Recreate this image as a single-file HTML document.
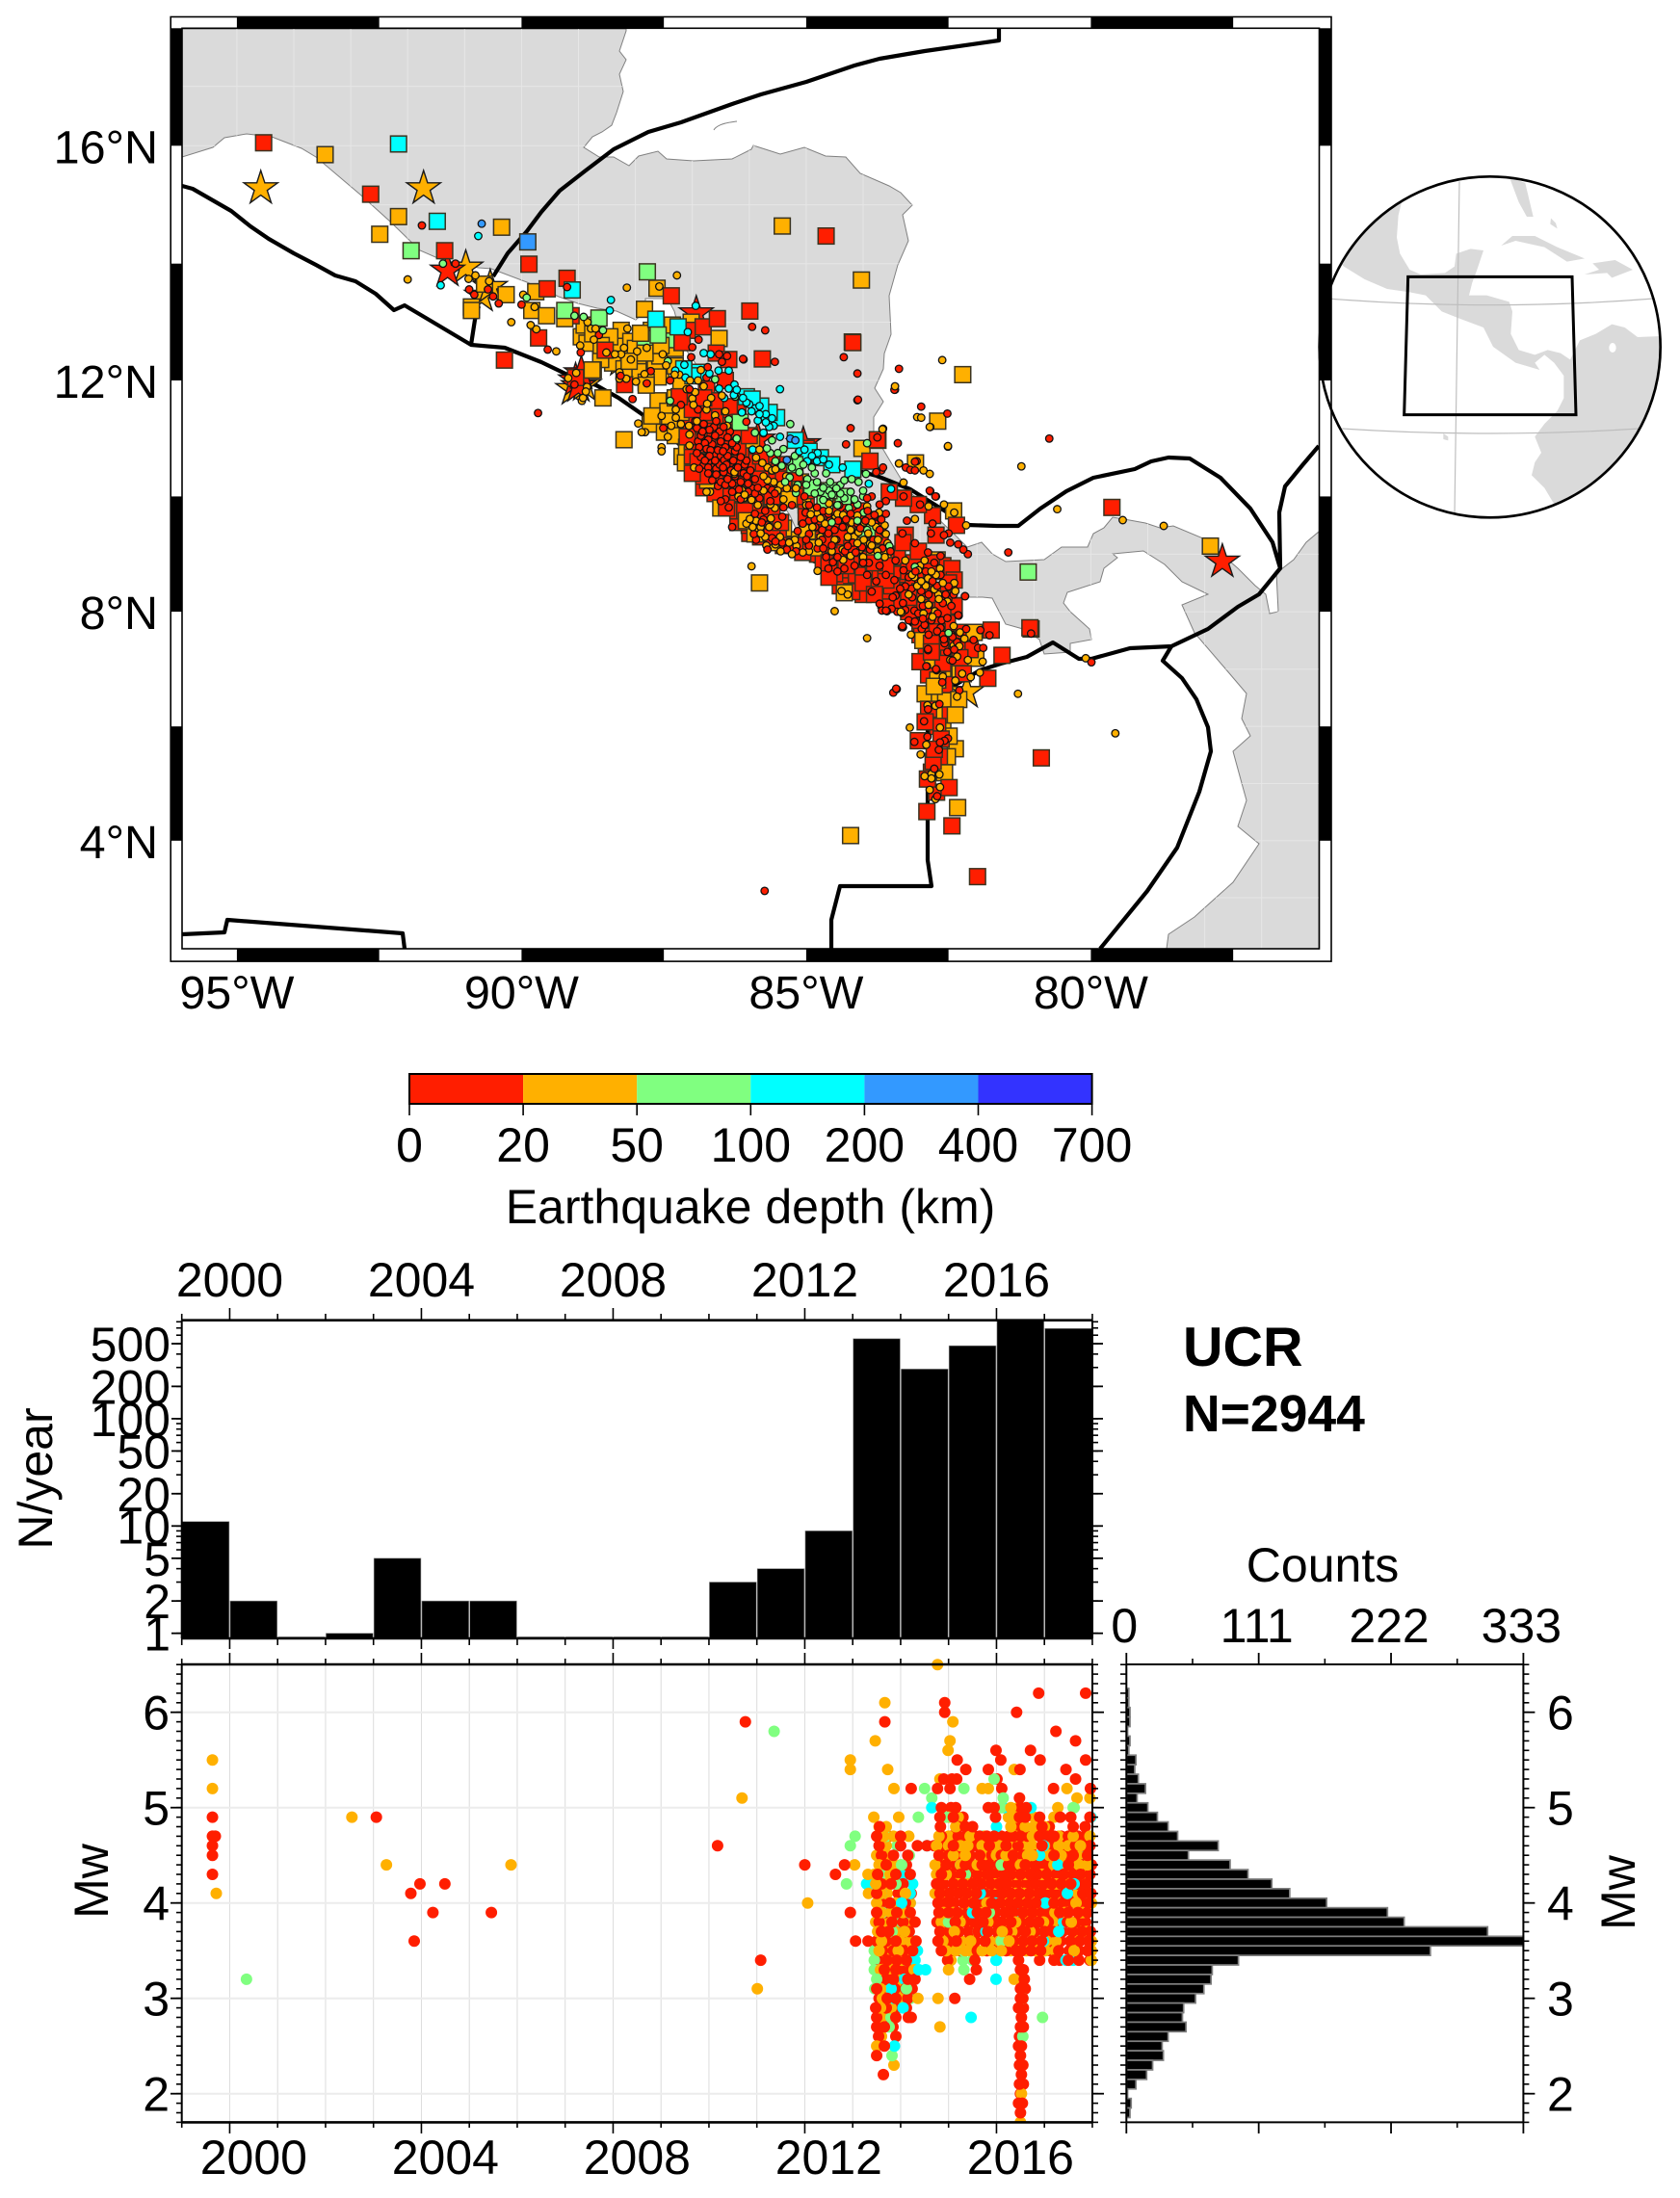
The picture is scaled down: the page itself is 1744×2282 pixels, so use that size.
<!DOCTYPE html>
<html lang="en">
<head>
<meta charset="utf-8">
<title>UCR earthquake catalogue, Central America</title>
<style>
html,body{margin:0;padding:0;background:#fff;}
svg{display:block;}
text{font-family:"Liberation Sans",sans-serif;fill:#000;}
</style>
</head>
<body>
<svg id="fig" xmlns="http://www.w3.org/2000/svg" width="1744" height="2282" viewBox="0 0 1744 2282">
<defs>
<clipPath id="mapClip"><rect x="189" y="29.3" width="1180.5" height="955.7"/></clipPath>
<clipPath id="landClip"><polygon id="landClipPoly" points=""/></clipPath>
<clipPath id="globeClip"><circle cx="620" cy="601" r="531"/></clipPath>
<clipPath id="tmClip"><rect x="188.7" y="1720" width="960" height="483.4"/></clipPath>
</defs>

<g id="inset" transform="translate(1340,160) scale(0.33333)">
<circle cx="620" cy="601" r="531" fill="#fff"/>
<g clip-path="url(#globeClip)" fill="#dadada">
<polygon points="350,130 335,190 330,260 340,310 370,360 405,375 480,370 510,350 515,310 560,295 600,300 580,360 565,400 555,440 610,440 680,460 690,490 685,560 710,610 760,625 800,610 840,620 870,640 900,580 950,560 1000,530 1040,540 1080,570 1200,565 1200,1200 820,1090 790,1040 750,1000 760,960 780,930 760,880 790,840 830,800 850,760 850,690 820,650 790,625 760,650 775,672 700,650 630,600 620,580 600,540 520,510 470,490 420,440 370,430 300,420 230,390 165,350 50,250 200,50"/>
<polygon points="680,70 730,90 755,195 735,195 710,150"/>
<polygon points="655,285 690,255 760,255 830,290 915,325 860,335 790,290 700,270"/>
<polygon points="940,340 1010,330 1065,360 1000,385 985,370 915,375 960,360"/>
<polygon points="810,200 825,215 830,232 808,218"/>
<polygon points="475,870 490,880 490,892 475,888"/>
<ellipse cx="1002" cy="603" rx="11" ry="15" fill="#fff"/>
<path d="M115,450 Q620,490 1130,450 M160,855 Q620,885 1085,855 M525,85 L510,1120" fill="none" stroke="#bdbdbd" stroke-width="3.5"/>
</g>
<polygon points="365,382 876,382 888,812 353,812" fill="none" stroke="#000" stroke-width="9"/>
<circle cx="620" cy="601" r="531" fill="none" stroke="#000" stroke-width="8"/>
</g>

<g id="mapLayer" clip-path="url(#mapClip)">
<polygon id="land" fill="#dadada" stroke="#808080" stroke-width="1" points=""/>
<g id="graticule" clip-path="url(#landClip)"></g>
<path d="M741,135 Q745,128 765,126" fill="none" stroke="#808080" stroke-width="1"/>
<g fill="none" stroke="#000" stroke-width="4.2" stroke-linejoin="round">
<polyline points="189,193 200,196 240,219 260,235 279,248 305,263 328,275 348,286 369,292 390,305 409,322 420,317 447,333 489,358 524,361 562,376 587,388 619,400 642,413 665,429 696,453 715,470 760,505 800,545 843,582 860,588 890,607 913,625 933,635 948,650 963,695 963,893 967,920 872,920 863,955 863,985"/>
<polyline points="489,358 493,332 497,318"/>
<polyline points="512,287 527,263 547,240 562,220 581,198 608,177 637,155 673,137 707,127 760,108 790,98 837,85 887,68 913,61 960,53 1037,42 1037,29"/>
<polyline points="810,477 861,481 910,494 945,508 1004,545 1035,546 1057,546 1080,528 1107,510 1135,496 1178,487 1195,479 1213,475 1235,476 1267,496 1298,528 1321,563 1329,590 1328,532 1334,505 1352,483 1369,463"/>
<polyline points="1329,590 1307,617 1285,630 1254,653 1216,671 1173,673 1133,684 1120,684 1093,667 1066,682 1039,689 1017,696 985,715"/>
<polyline points="1216,671 1207,686 1227,704 1242,726 1254,755 1257,780 1245,822 1222,880 1191,925 1142,985"/>
<polyline points="189,970 233,968 236,955 418,969 420,985"/>
</g>
<g id="stars"></g>
<g id="squares"></g>
<g id="circles"></g>
</g>

<g id="mapFrame"></g>
<g id="mapLabels"></g>

<g id="colorbar"></g>
<text x="779" y="1270" font-size="50" text-anchor="middle">Earthquake depth (km)</text>

<g id="yearBars"></g>
<text transform="translate(54,1535) rotate(-90)" font-size="50" text-anchor="middle">N/year</text>

<text x="1228" y="1418" font-size="57.5" font-weight="bold">UCR</text>
<text x="1228" y="1486" font-size="53.5" font-weight="bold">N=2944</text>

<g id="tmPanel"></g>
<text transform="translate(112,1953) rotate(-90)" font-size="50" text-anchor="middle">Mw</text>

<g id="magHist"></g>
<text x="1373" y="1642" font-size="50" text-anchor="middle">Counts</text>
<text transform="translate(1697,1965) rotate(-90)" font-size="50" text-anchor="middle">Mw</text>
</svg>

<script>
/* ---------- chart data ---------- */
const depthEdges = [0,20,50,100,200,400,700];
const depthColors = ['#ff1e00','#ffb000','#80ff80','#00ffff','#3399ff','#3333ff'];

const lonTicks = [-95,-90,-85,-80];
const latTicks = [16,12,8,4];
const frameLonStarts = [-95,-90,-85,-80];
const frameLatBands = [[18,16],[14,12],[10,8],[6,4]];

const starsRed = [[-91.3,13.88],[-77.69,8.87],[-89.05,12.0],[-89.0,11.9],[-88.95,12.12],[-85.05,10.9],[-86.93,13.15],[-85.85,10.98]];
const starsOrange = [[-94.58,15.28],[-91.72,15.28],[-90.98,13.93],[-90.7,13.45],[-90.55,13.6],[-89.1,11.85],[-88.9,11.92],[-88.25,12.35],[-82.18,6.6]];
const starsGreen = [[-88.72,12.78]];

const squaresOrange = [[-93.45,15.85],[-92.16,14.8],[-92.49,14.5],[-90.35,14.62],[-89.75,13.52],[-90.27,13.47],[-90.65,13.65],[-90.88,13.26],[-90.88,13.2],[-87.62,13.58],[-88.74,12.18],[-88.57,11.7],[-88.2,10.98],[-87.74,11.25],[-87.71,11.39],[-89.82,13.2],[-89.56,13.11],[-89.24,13.06],[-88.9,12.95],[-88.85,12.64],[-88.61,12.36],[-88.76,12.18],[-88.3,12.64],[-88.08,12.67],[-88.25,12.86],[-87.91,12.81],[-87.83,12.47],[-88.11,12.33],[-87.57,12.42],[-87.6,12.06],[-87.85,12.06],[-87.81,11.97],[-87.81,11.92],[-87.84,13.22],[-87.72,12.86],[-87.4,12.82],[-87.02,13.0],[-86.53,12.72],[-87.2,11.95],[-87.43,11.47],[-86.64,11.53],[-87.49,11.11],[-87.18,10.69],[-87.12,10.58],[-86.7,10.28],[-85.96,10.97],[-86.05,9.61],[-85.82,8.5],[-84.33,8.33],[-84.02,10.83],[-82.69,11.3],[-83.08,10.58],[-82.41,9.75],[-82.05,7.64],[-82.78,7.16],[-82.02,7.19],[-86.05,9.58],[-85.2,9.25],[-84.86,9.11],[-85.06,10.03],[-85.71,10.58],[-86.73,10.28],[-83.65,9.03],[-82.91,6.57],[-82.66,6.57],[-82.32,6.47],[-82.49,6.28],[-82.38,6.2],[-82.69,6.81],[-82.49,5.83],[-82.38,5.61],[-82.52,5.47],[-82.57,5.19],[-82.34,4.58],[-84.22,4.09],[-77.9,9.14],[-85.42,14.64],[-84.03,13.72],[-82.25,12.1],[-84.98,9.4],[-85.3,9.95],[-84.3,9.6],[-85.9,9.35],[-86.5,9.8]];
const squaresOrangeBand = [[-88.95,12.75],[-88.75,12.8],[-88.6,12.6],[-88.45,12.75],[-88.2,12.55],[-88.0,12.55],[-87.95,12.3],[-87.75,12.6],[-87.65,12.25],[-88.4,12.3],[-88.2,12.2],[-87.95,12.15],[-87.55,12.6],[-87.55,12.15],[-87.3,12.55],[-87.3,12.25],[-87.35,12.95],[-87.2,12.75],[-87.6,11.65],[-87.3,11.7],[-87.6,11.25],[-87.4,11.3],[-87.2,11.45],[-87.3,11.05],[-87.1,10.85],[-86.95,10.75],[-85.4,9.45],[-85.6,9.2],[-84.4,9.5],[-84.0,9.2],[-83.8,9.0],[-82.75,6.7],[-82.55,6.45],[-82.75,6.2],[-82.6,6.1],[-82.7,8.9],[-82.95,7.5],[-82.3,7.0],[-82.6,6.95],[-85.5,10.3],[-85.1,10.25]];
const squaresRed = [[-94.53,16.05],[-92.65,15.18],[-91.35,14.22],[-89.87,13.99],[-89.2,13.75],[-89.55,13.57],[-87.37,13.45],[-89.7,12.73],[-90.3,12.35],[-89.05,12.05],[-89.13,13.11],[-88.53,12.52],[-88.19,11.93],[-87.09,12.86],[-87.18,12.65],[-86.81,12.92],[-86.56,13.06],[-85.99,13.19],[-86.58,12.47],[-86.36,12.36],[-86.42,12.0],[-87.23,11.72],[-87.02,11.64],[-87.09,11.28],[-87.09,11.03],[-86.64,10.69],[-86.75,10.47],[-86.36,10.25],[-86.19,9.91],[-85.99,9.36],[-85.0,10.83],[-83.74,10.97],[-83.88,10.61],[-83.54,10.08],[-83.29,9.97],[-83.03,9.86],[-82.78,9.67],[-82.36,9.5],[-83.26,9.33],[-82.72,9.33],[-83.03,9.05],[-82.44,8.75],[-84.5,8.66],[-84.16,8.64],[-83.82,8.69],[-83.74,8.47],[-83.54,8.36],[-83.93,8.91],[-83.6,8.8],[-82.58,8.25],[-82.92,8.03],[-83.2,8.25],[-82.97,7.69],[-82.52,7.8],[-82.24,7.64],[-82.89,7.36],[-82.64,7.47],[-83.0,7.13],[-82.3,7.02],[-82.13,7.36],[-86.08,9.75],[-85.49,9.39],[-85.06,9.03],[-86.3,9.8],[-85.8,10.08],[-84.61,9.75],[-84.55,9.17],[-81.75,7.68],[-81.05,7.7],[-81.56,7.24],[-81.81,6.84],[-82.8,7.15],[-82.12,7.34],[-82.66,7.54],[-82.24,6.92],[-82.57,6.73],[-82.91,6.08],[-82.69,6.0],[-83.03,5.75],[-82.63,5.78],[-82.66,5.47],[-82.77,5.39],[-82.87,5.08],[-82.49,4.93],[-82.71,4.85],[-82.88,4.51],[-82.44,4.26],[-81.99,3.37],[-80.87,5.45],[-85.77,12.37],[-84.19,12.66],[-83.75,10.98],[-79.63,9.81],[-81.07,7.72],[-84.65,14.47],[-84.18,12.65],[-86.9,11.1],[-86.7,11.0],[-86.45,11.1],[-86.3,10.9],[-86.15,10.7],[-86.9,10.6],[-86.6,10.4],[-86.3,10.5],[-86.1,10.3],[-86.5,10.15],[-86.2,10.05],[-85.95,10.15],[-85.75,10.45],[-85.6,10.25],[-85.4,10.1],[-85.2,10.0],[-85.9,9.85],[-85.6,9.7],[-85.45,9.55],[-85.0,9.65],[-84.8,9.4],[-84.5,9.45],[-84.2,9.3],[-84.9,9.2],[-84.4,9.05],[-84.1,8.95],[-84.7,8.85],[-84.3,8.8],[-83.9,9.05],[-83.7,9.25],[-83.9,9.6],[-84.1,9.75],[-83.3,9.2],[-83.1,8.85],[-83.2,8.5],[-82.9,8.55],[-82.7,8.3],[-82.5,8.5],[-83.0,7.85],[-82.7,7.65],[-82.5,7.35],[-82.8,7.45],[-82.3,7.2],[-82.6,7.1],[-82.35,7.4],[-83.7,8.7],[-84.0,8.5],[-83.5,8.45],[-86.85,11.4],[-86.55,11.3],[-86.35,11.55],[-86.75,11.85]];
const squaresRedBand = [[-87.0,11.5],[-87.0,11.2],[-87.0,10.95],[-87.0,10.7],[-87.0,10.4],[-86.8,11.7],[-86.8,11.45],[-86.8,11.15],[-86.8,10.9],[-86.8,10.65],[-86.8,10.35],[-86.8,10.15],[-86.6,11.65],[-86.6,11.4],[-86.6,11.15],[-86.6,10.9],[-86.6,10.6],[-86.6,10.3],[-86.6,10.05],[-86.4,11.5],[-86.4,11.25],[-86.4,10.75],[-86.4,10.5],[-86.4,10.0],[-86.4,9.8],[-86.2,11.45],[-86.2,11.15],[-86.2,10.85],[-86.2,10.4],[-86.2,10.2],[-86.2,9.75],[-86.2,9.55],[-86.0,11.05],[-86.0,10.6],[-86.0,10.0],[-86.0,9.75],[-86.0,9.5],[-85.8,10.7],[-85.8,10.3],[-85.8,9.6],[-85.8,9.3],[-85.6,10.6],[-85.6,10.0],[-85.6,9.3],[-85.4,10.55],[-85.4,10.3],[-85.4,9.95],[-85.4,9.15],[-85.2,10.4],[-85.2,9.15],[-85.0,10.1],[-85.0,9.85],[-85.0,9.3],[-84.8,9.65],[-84.8,9.25],[-84.8,9.0],[-84.6,9.6],[-84.6,9.25],[-84.6,8.85],[-84.6,8.6],[-84.4,9.8],[-84.4,9.3],[-84.4,8.6],[-84.4,8.45],[-84.2,9.55],[-84.2,9.1],[-84.2,8.55],[-84.2,8.35],[-84.0,9.35],[-84.0,9.15],[-84.0,8.75],[-84.0,8.3],[-83.8,9.4],[-83.8,9.1],[-83.8,8.85],[-83.8,8.3],[-83.6,9.0],[-83.6,8.55],[-83.6,8.2],[-83.4,8.95],[-83.4,8.65],[-83.4,8.15],[-83.2,8.7],[-83.2,8.0],[-83.0,8.35],[-83.0,8.15],[-83.0,7.6],[-82.8,8.85],[-82.8,8.7],[-82.8,8.1],[-82.8,7.9],[-82.8,7.3],[-82.6,8.8],[-82.6,8.05],[-82.6,7.9],[-82.4,8.55],[-82.4,8.1],[-82.4,7.55],[-82.4,7.2],[-82.85,6.9],[-82.85,6.3],[-82.6,6.2],[-82.75,5.6],[-82.8,5.2]];
const squaresGreen = [[-91.94,14.22],[-87.79,13.86],[-89.24,13.2],[-88.64,13.07],[-87.83,12.72],[-87.4,12.7],[-86.16,11.28],[-84.67,9.92],[-83.93,9.42],[-81.1,8.69],[-87.6,12.78],[-84.9,10.15],[-84.35,10.0],[-85.2,10.55],[-84.6,10.1]];
const squaresCyan = [[-92.16,16.03],[-91.48,14.72],[-89.11,13.55],[-87.64,13.05],[-87.25,12.92],[-87.15,12.2],[-86.87,12.14],[-86.05,11.72],[-85.8,11.56],[-85.52,11.36],[-85.19,10.97],[-84.75,10.67],[-84.18,10.47],[-86.99,12.08],[-85.95,11.68],[-85.65,11.45],[-84.95,10.78],[-84.55,10.55]];
const squaresBlue = [[-89.89,14.37]];

const circlesCyan = [[-90.76,14.47],[-91.42,13.63],[-88.43,13.38],[-88.45,13.2],[-86.94,13.28],[-86.8,12.47],[-86.68,12.45],[-87.08,12.83],[-87.14,12.27],[-86.7,12.12],[-86.54,12.17],[-86.36,12.17],[-86.26,11.93],[-86.53,11.86],[-86.36,11.86],[-86.22,11.84],[-86.44,11.7],[-86.27,11.75],[-86.11,11.7],[-86.0,11.59],[-85.82,11.56],[-86.13,11.45],[-85.96,11.47],[-85.82,11.42],[-85.71,11.42],[-85.85,11.31],[-85.71,11.28],[-85.57,11.22],[-85.65,11.2],[-85.46,11.85],[-85.94,10.81],[-85.46,11.03],[-85.03,10.81],[-84.81,10.61],[-84.7,10.64],[-84.98,10.61],[-85.12,10.78],[-84.36,10.5],[-83.9,10.22],[-83.51,10.13],[-87.3,12.17],[-87.12,12.05],[-86.05,11.62],[-85.9,11.52],[-85.75,11.1],[-85.6,11.35],[-84.9,10.7],[-84.8,10.75],[-84.6,10.55]];
const circlesBlue = [[-90.7,14.68],[-85.28,11.0],[-85.19,10.97],[-85.34,10.63]];
const circlesGreen = [[-91.38,14.0],[-89.91,13.42],[-89.07,13.11],[-88.91,13.09],[-88.57,12.86],[-87.43,12.33],[-87.39,11.65],[-86.6,12.02],[-86.36,11.33],[-86.23,10.97],[-86.25,11.72],[-86.22,11.73],[-86.22,11.0],[-85.75,11.09],[-85.6,10.97],[-85.28,11.25],[-85.69,10.83],[-85.63,10.75],[-85.54,10.61],[-85.4,10.82],[-85.43,10.53],[-85.29,10.33],[-85.12,10.42],[-84.98,10.3],[-84.81,10.25],[-84.75,10.08],[-84.58,10.25],[-84.55,10.03],[-84.47,10.14],[-84.33,10.28],[-84.22,10.08],[-84.08,10.25],[-83.95,10.39],[-83.93,10.92],[-84.1,9.86],[-83.99,9.72],[-84.1,9.58],[-84.55,9.55],[-83.93,9.42],[-83.74,8.97],[-83.54,9.14],[-83.09,8.78],[-82.5,7.63],[-85.37,10.25],[-85.18,10.06],[-85.0,10.2],[-84.7,9.94],[-84.33,9.97],[-85.9,11.1],[-85.3,10.6],[-84.9,10.5],[-84.65,10.4],[-84.4,10.2],[-84.0,10.1],[-85.15,10.2],[-84.85,10.05],[-84.2,10.3],[-85.5,10.75],[-85.25,10.5],[-85.05,10.55],[-84.85,10.4],[-84.6,10.1],[-84.4,10.05],[-84.15,9.95],[-84.0,10.0],[-84.25,9.8],[-84.45,9.85],[-84.7,10.15],[-85.2,10.7]];
const circlesOrange = [[-92.0,13.73],[-90.93,13.74],[-90.81,13.8],[-90.57,13.7],[-89.97,13.47],[-89.77,13.26],[-90.18,13.0],[-89.84,12.95],[-89.74,12.88],[-89.39,12.5],[-88.97,12.6],[-88.84,13.0],[-88.78,12.89],[-88.7,12.89],[-88.73,12.7],[-89.04,12.13],[-89.18,12.04],[-88.85,11.89],[-88.87,11.81],[-88.94,11.65],[-88.51,12.48],[-88.36,12.45],[-88.25,12.45],[-88.2,12.56],[-88.14,12.89],[-88.08,12.36],[-87.97,12.5],[-87.8,12.56],[-87.52,12.45],[-87.46,12.26],[-88.28,12.14],[-88.28,12.03],[-88.16,12.03],[-87.99,11.98],[-87.84,12.11],[-88.15,13.59],[-87.27,13.8],[-87.58,13.61],[-87.31,12.1],[-87.23,12.1],[-87.04,12.0],[-86.9,12.0],[-86.85,12.18],[-87.0,11.69],[-86.98,11.58],[-86.74,11.6],[-87.29,11.5],[-87.29,11.36],[-87.54,11.39],[-87.37,11.22],[-87.43,11.03],[-87.95,11.26],[-87.89,11.11],[-87.83,11.11],[-87.54,10.78],[-87.05,11.07],[-87.05,10.88],[-87.2,11.25],[-87.06,11.22],[-86.92,11.3],[-86.48,11.74],[-86.42,11.47],[-86.39,11.22],[-86.67,11.7],[-86.97,10.5],[-86.74,10.67],[-86.26,10.39],[-86.1,9.97],[-86.75,10.08],[-86.69,10.08],[-85.96,8.79],[-84.8,8.71],[-84.5,8.01],[-83.93,7.54],[-83.16,7.6],[-86.26,10.42],[-86.08,10.03],[-85.96,9.94],[-86.19,10.0],[-86.13,10.11],[-85.99,9.61],[-85.88,9.58],[-85.94,9.47],[-85.8,9.47],[-85.65,9.47],[-86.05,9.53],[-85.8,9.36],[-85.46,9.3],[-85.54,9.17],[-85.2,9.25],[-85.17,9.14],[-85.06,9.03],[-85.63,9.86],[-85.68,10.28],[-85.77,10.58],[-85.82,10.81],[-85.88,10.67],[-85.68,10.5],[-85.54,10.47],[-85.57,10.25],[-85.34,10.14],[-85.18,10.14],[-84.92,9.69],[-84.81,9.72],[-84.67,9.53],[-84.89,9.47],[-84.75,9.3],[-84.5,9.25],[-84.33,9.47],[-84.22,9.42],[-84.16,9.3],[-84.27,9.3],[-84.1,9.19],[-83.99,9.25],[-83.91,9.36],[-83.77,9.47],[-83.74,9.25],[-83.57,9.19],[-84.05,9.08],[-84.22,8.97],[-84.36,9.08],[-84.1,9.67],[-83.93,9.83],[-84.38,8.36],[-84.27,8.3],[-83.26,8.89],[-83.14,8.64],[-83.03,8.72],[-82.92,8.89],[-82.86,8.58],[-82.72,8.64],[-82.98,8.53],[-82.75,8.39],[-82.67,8.22],[-82.98,8.22],[-82.38,8.36],[-83.34,8.0],[-82.78,7.91],[-82.41,7.75],[-82.3,7.64],[-82.41,7.41],[-82.47,7.16],[-82.16,7.16],[-82.35,7.22],[-82.83,10.39],[-83.65,11.17],[-82.98,11.36],[-82.82,11.2],[-82.51,10.86],[-83.37,10.57],[-82.94,10.45],[-83.29,10.24],[-83.09,9.61],[-82.85,9.83],[-82.58,9.86],[-82.4,9.72],[-82.19,9.5],[-83.44,11.9],[-83.66,11.16],[-83.05,11.37],[-82.83,11.2],[-82.51,10.87],[-82.61,12.35],[-81.22,10.52],[-83.37,10.57],[-80.59,9.78],[-79.44,9.59],[-78.72,9.49],[-81.28,6.57],[-79.57,5.88],[-80.09,7.19],[-83.18,5.98],[-82.99,5.51],[-82.22,7.53],[-82.31,7.4],[-81.9,7.13],[-81.95,6.94],[-82.26,6.92],[-82.11,6.86],[-82.38,6.8],[-82.6,6.87],[-82.35,6.52],[-82.87,6.37],[-82.73,6.36],[-82.65,5.98],[-82.89,5.68],[-82.66,5.16],[-82.92,5.13],[-82.8,5.17],[-82.8,5.09],[-82.65,4.94],[-82.83,4.89],[-82.73,4.73],[-83.32,7.98],[-82.94,7.97],[-82.74,8.01],[-82.32,7.93],[-87.54,10.85],[-88.92,11.7],[-85.0,9.85],[-84.6,9.75],[-84.45,9.7],[-83.85,9.15],[-83.6,9.35],[-85.4,9.95],[-85.5,10.1]];
const circlesOrangeBand = [[-85.75,10.1],[-85.45,10.2],[-85.85,9.85],[-85.55,9.8],[-85.62,9.62],[-85.5,9.5],[-85.72,9.3],[-85.3,9.2],[-85.7,9.15],[-85.45,9.05],[-85.25,9.0],[-84.9,9.78],[-84.75,9.62],[-84.6,9.88],[-84.5,9.62],[-84.35,9.68],[-84.2,9.55],[-84.08,9.38],[-83.98,9.55],[-83.85,9.55],[-83.72,9.72],[-83.62,9.5],[-83.88,9.18],[-83.75,9.05],[-83.62,8.95],[-84.0,8.95],[-84.35,8.9],[-84.55,9.05],[-84.78,9.2],[-84.95,9.05],[-83.2,8.3],[-83.05,8.45],[-82.9,8.45],[-82.8,8.7],[-82.68,8.3],[-82.6,8.5],[-83.1,8.6],[-82.85,8.12],[-82.52,8.18],[-82.4,8.5],[-83.0,8.8],[-82.65,8.75],[-86.8,11.9],[-86.95,11.8],[-87.1,11.85],[-86.6,11.4],[-86.75,11.5],[-85.6,10.45],[-85.35,10.35],[-85.75,10.35]];
const circlesRed = [[-91.75,14.65],[-91.16,14.0],[-90.92,13.56],[-90.59,13.56],[-90.83,13.47],[-90.5,13.44],[-90.4,13.32],[-90.0,13.3],[-89.2,13.6],[-89.54,12.53],[-88.96,12.48],[-89.71,11.44],[-88.05,11.68],[-87.8,11.95],[-87.73,12.16],[-87.39,12.0],[-87.51,11.18],[-88.26,12.08],[-89.07,11.93],[-88.64,12.78],[-86.1,12.36],[-86.89,12.7],[-87.0,12.57],[-87.02,12.4],[-86.73,12.23],[-86.53,12.45],[-86.39,12.42],[-86.48,12.32],[-87.2,11.58],[-85.95,12.92],[-85.72,12.86],[-86.11,12.37],[-85.55,12.32],[-84.34,12.4],[-84.1,12.12],[-84.1,11.66],[-84.22,11.18],[-84.3,10.9],[-83.39,10.92],[-83.37,12.2],[-83.45,11.84],[-82.98,11.55],[-82.52,11.43],[-80.73,11.0],[-81.45,9.03],[-82.21,8.27],[-83.32,7.73],[-83.42,6.66],[-83.47,6.59],[-79.99,7.12],[-85.73,3.12],[-82.83,10.1],[-82.73,10.0],[-86.95,11.3],[-86.8,11.25],[-86.7,11.15],[-86.58,11.3],[-86.45,11.2],[-86.85,11.05],[-86.72,10.98],[-86.6,11.05],[-86.5,10.95],[-86.38,11.02],[-86.88,10.85],[-86.75,10.82],[-86.65,10.9],[-86.55,10.8],[-86.42,10.85],[-86.3,10.92],[-86.85,10.68],[-86.7,10.7],[-86.6,10.62],[-86.5,10.7],[-86.38,10.7],[-86.25,10.78],[-86.8,10.55],[-86.65,10.5],[-86.52,10.55],[-86.4,10.55],[-86.28,10.62],[-86.15,10.68],[-86.72,10.4],[-86.58,10.38],[-86.45,10.42],[-86.32,10.45],[-86.2,10.5],[-86.08,10.55],[-86.5,10.25],[-86.38,10.3],[-86.25,10.35],[-86.1,10.4],[-85.98,10.45],[-85.68,10.14],[-85.6,10.11],[-85.82,9.97],[-85.94,10.14],[-85.63,9.92],[-85.4,9.81],[-86.3,9.47],[-86.36,9.81],[-86.5,9.92],[-85.88,9.25],[-85.68,9.08],[-85.54,9.22],[-85.34,9.08],[-85.18,9.05],[-85.06,9.53],[-85.03,10.0],[-84.95,9.58],[-84.84,9.47],[-84.72,9.25],[-84.53,8.86],[-84.61,8.75],[-84.33,8.75],[-84.61,9.7],[-84.44,9.58],[-84.22,9.7],[-84.1,9.86],[-83.93,9.97],[-83.85,10.0],[-83.71,9.86],[-83.6,9.92],[-83.6,9.7],[-83.79,9.53],[-83.71,9.42],[-83.96,9.58],[-83.65,9.39],[-84.1,9.53],[-84.3,9.72],[-84.36,9.47],[-84.5,9.42],[-84.47,9.25],[-84.61,9.36],[-84.81,9.81],[-85.01,9.72],[-84.27,9.14],[-84.13,9.03],[-83.88,9.08],[-83.71,8.8],[-83.93,8.64],[-83.77,8.53],[-83.6,8.64],[-83.43,8.89],[-83.29,8.72],[-83.43,8.28],[-83.26,8.44],[-83.14,8.25],[-82.98,8.36],[-82.78,8.53],[-82.64,8.64],[-82.5,8.44],[-82.41,8.3],[-83.03,7.97],[-82.86,8.03],[-82.69,7.97],[-82.52,7.89],[-83.09,7.83],[-82.92,7.77],[-82.64,7.72],[-82.33,7.94],[-83.6,8.02],[-83.31,7.75],[-82.86,7.35],[-82.52,7.3],[-82.58,7.52],[-82.35,7.47],[-82.89,7.05],[-82.72,7.0],[-83.71,8.14],[-83.48,8.25],[-83.26,8.03],[-83.03,8.53],[-82.86,9.03],[-82.64,8.97],[-82.58,9.33],[-82.81,9.36],[-83.09,9.19],[-83.31,9.36],[-83.23,9.58],[-83.29,10.0],[-83.0,9.86],[-82.82,10.09],[-82.72,10.0],[-82.78,9.53],[-82.5,9.36],[-82.47,9.2],[-82.33,9.17],[-82.16,9.0],[-82.24,9.08],[-82.21,8.27],[-84.09,11.67],[-83.44,11.84],[-86.05,11.29],[-83.09,10.6],[-83.06,10.61],[-83.25,10.5],[-83.17,10.46],[-83.09,10.45],[-83.68,10.45],[-83.77,10.42],[-83.65,10.5],[-83.75,11.02],[-81.05,7.62],[-81.78,7.59],[-83.41,6.65],[-83.3,7.73],[-82.86,7.33],[-82.88,7.05],[-82.71,6.98],[-82.43,7.15],[-82.4,7.34],[-81.98,7.37],[-81.89,7.37],[-82.06,7.51],[-81.94,7.68],[-82.19,7.7],[-82.31,6.63],[-82.61,6.77],[-82.66,6.39],[-82.86,6.3],[-82.93,6.09],[-83.1,5.73],[-82.87,5.82],[-82.65,5.72],[-82.57,5.75],[-82.51,5.79],[-82.67,5.59],[-82.75,5.26],[-82.7,4.78],[-83.67,8.02],[-83.58,8.01],[-82.43,7.56],[-82.57,7.45],[-82.7,7.66],[-82.97,7.7],[-85.9,9.7],[-85.75,9.6],[-85.15,9.4],[-84.95,9.15],[-85.25,9.85],[-84.7,9.1],[-84.45,8.95],[-84.0,8.85],[-83.85,8.35],[-83.5,8.05]];
const circlesRedBand = [[-86.92,11.18],[-86.82,11.12],[-86.62,11.2],[-86.52,11.12],[-86.34,11.12],[-86.9,10.95],[-86.78,10.92],[-86.68,10.8],[-86.46,10.78],[-86.35,10.78],[-86.22,10.85],[-86.92,10.75],[-86.78,10.62],[-86.58,10.72],[-86.44,10.63],[-86.32,10.58],[-86.18,10.58],[-86.05,10.62],[-86.88,10.48],[-86.72,10.5],[-86.58,10.48],[-86.46,10.5],[-86.34,10.38],[-86.18,10.42],[-86.04,10.35],[-86.65,10.28],[-86.55,10.18],[-86.42,10.2],[-86.3,10.22],[-86.15,10.25],[-86.02,10.22],[-85.9,10.3],[-86.3,10.08],[-86.18,10.12],[-86.02,10.08],[-85.85,10.15],[-86.42,9.95],[-86.15,9.95],[-85.9,10.05],[-85.55,10.05],[-85.72,9.75],[-85.42,9.65],[-85.95,9.62],[-85.78,9.55],[-85.92,9.35],[-85.6,9.28],[-85.42,9.2],[-84.95,9.85],[-84.85,9.6],[-84.7,9.75],[-84.58,9.58],[-84.72,9.42],[-84.55,9.15],[-84.42,9.85],[-84.3,9.6],[-84.18,9.82],[-84.05,9.45],[-84.18,9.2],[-84.32,9.05],[-84.02,9.12],[-83.92,9.75],[-83.8,9.68],[-83.68,9.6],[-83.82,9.25],[-83.66,9.1],[-83.52,9.05],[-83.9,8.85],[-84.15,8.8],[-84.45,8.7],[-84.65,8.95],[-84.8,9.1],[-84.95,9.35],[-85.0,9.25],[-83.45,8.55],[-83.35,8.4],[-83.2,8.6],[-83.08,8.7],[-83.3,8.15],[-83.15,8.4],[-83.1,8.02],[-82.95,8.1],[-82.85,8.3],[-82.7,8.45],[-82.6,8.15],[-82.55,8.3],[-82.9,8.7],[-82.75,8.85],[-82.95,7.88],[-82.8,7.85],[-82.62,7.85],[-82.45,8.1],[-83.2,7.85],[-83.4,8.0],[-82.85,7.6],[-82.6,7.6],[-82.45,7.6],[-86.75,12.05],[-87.05,11.85],[-86.9,11.5]];

const yearTicks = [2000,2004,2008,2012,2016];
const eventYears = [1999,2000,2001,2002,2003,2004,2005,2006,2007,2008,2009,2010,2011,2012,2013,2014,2015,2016,2017];
const eventsPerYear = [11,2,0,1,5,2,2,0,0,0,0,3,4,9,556,290,478,815,692];
const nPerYearLabels = [1,2,5,10,20,50,100,200,500];
const nPerYearMinor = [1,2,3,4,5,6,7,8,9,10,20,30,40,50,60,70,80,90,100,200,300,400,500,600,700,800];

const mwTicks = [2,3,4,5,6];
const mwMinorTicks = [1.7,1.8,1.9,2.0,2.1,2.2,2.3,2.4,2.5,2.6,2.7,2.8,2.9,3.0,3.1,3.2,3.3,3.4,3.5,3.6,3.7,3.8,3.9,4.0,4.1,4.2,4.3,4.4,4.5,4.6,4.7,4.8,4.9,5.0,5.1,5.2,5.3,5.4,5.5,5.6,5.7,5.8,5.9,6.0,6.1,6.2,6.3,6.4,6.5];

/* isolated events: [decimal year, Mw] */
const isoRed = [[1999.64,4.9],[1999.64,4.7],[1999.7,4.7],[1999.64,4.6],[1999.64,4.5],[1999.64,4.3],[2003.06,4.9],[2003.78,4.1],[2003.97,4.2],[2004.49,4.2],[2003.85,3.6],[2004.24,3.9],[2005.46,3.9],[2010.18,4.6],[2010.76,5.9],[2011.08,3.4],[2012.0,4.4],[2012.64,4.3],[2012.83,4.4],[2012.95,3.9],[2013.06,3.6],[2013.32,3.6],[2013.67,5.9],[2014.22,5.2],[2014.92,6.1],[2014.92,6.0],[2015.18,5.5],[2015.36,5.4],[2014.77,5.2],[2015.03,5.2],[2014.9,5.3],[2015.07,5.3],[2015.17,5.3],[2016.88,6.2],[2017.86,6.2],[2016.42,6.0],[2017.24,5.8],[2017.65,5.7],[2015.99,5.6],[2016.71,5.6],[2016.09,5.5],[2016.91,5.5],[2017.86,5.5],[2015.83,5.4],[2016.49,5.4],[2017.45,5.4],[2016.01,5.3],[2017.65,5.3],[2016.11,5.2],[2017.19,5.2],[2017.96,5.2],[2016.48,5.1],[2015.13,3.0],[2015.44,3.2],[2015.58,3.3]];
const isoOrange = [[1999.64,5.5],[1999.64,5.2],[1999.72,4.1],[2002.55,4.9],[2003.27,4.4],[2005.87,4.4],[2010.69,5.1],[2011.01,3.1],[2012.06,4.0],[2013.04,4.4],[2012.95,5.5],[2012.95,5.4],[2013.32,4.3],[2013.33,4.1],[2013.47,5.7],[2013.67,6.1],[2013.73,5.4],[2013.86,5.2],[2013.44,4.9],[2013.96,4.9],[2014.77,6.5],[2015.09,5.9],[2015.03,5.7],[2014.99,5.6],[2014.82,5.3],[2016.37,5.4],[2015.7,5.2],[2015.83,5.2],[2017.47,5.2],[2017.68,5.1],[2017.95,5.1],[2014.36,3.0],[2014.78,3.0],[2014.82,2.7],[2016.37,3.2],[2015.0,3.3]];
const isoGreen = [[2000.35,3.2],[2011.36,5.8],[2012.87,4.2],[2012.95,4.6],[2013.05,4.7],[2014.37,4.9],[2014.5,5.2],[2014.65,5.1],[2015.32,5.2],[2015.95,5.3],[2016.14,5.1],[2016.96,2.8],[2015.32,3.3],[2017.6,5.0]];
const isoCyan = [[2013.29,4.2],[2015.47,2.8],[2015.99,3.2],[2015.99,3.4],[2014.52,3.3]];

/* dense catalogue rows: one Mw value per row, event dates as years since 2000 */
const denseMw = [5.0,4.9,4.8,4.7,4.6,4.5,4.4,4.3,4.2,4.1,4.0,3.9,3.8,3.7,3.6,3.5,3.4,3.3,3.2,3.1,3.0,2.9,2.8,2.7,2.6,2.5,2.4,2.3,2.2,2.1,2.0,1.9,1.8,1.7];
const denseRed = [
[14.85,15.05,15.15,15.83,15.95,16.5,16.62],
[14.82,15.1,15.3,15.98,16.48,16.6,16.9,17.33,17.55,17.95],
[14.83,15.2,15.35,15.5,16.45,16.95,17.1,17.6,17.85,13.56],
[13.5,13.75,14.0,14.85,15.05,15.2,15.35,15.55,15.65,15.8,15.95,16.1,16.25,16.35,16.5,16.65,16.9,17.05,17.2,17.35,17.5,17.7,17.85],
[13.55,14.0,14.35,14.55,14.7,14.9,15.1,15.3,15.5,15.6,15.85,16.0,16.2,16.45,16.95,17.1,17.25,17.4,17.55,17.65,17.8,17.95],
[13.6,13.85,14.15,14.8,15.0,15.2,15.45,15.65,15.9,16.1,16.35,16.55,16.8,17.0,17.2,17.45,17.6,17.9],
[13.7,14.12,14.8,14.95,15.15,15.35,15.5,15.7,15.85,16.05,16.25,16.4,16.6,16.8,16.95,17.1,17.3,17.5,17.65,17.8,17.98],
[13.52,13.9,14.2,14.85,15.05,15.25,15.4,15.6,15.8,15.95,16.15,16.3,16.5,16.7,16.85,17.05,17.25,17.4,17.6,17.75,17.95],
[13.6,13.8,14.05,14.75,14.9,15.1,15.3,15.5,15.68,15.88,16.05,16.22,16.42,16.62,16.8,16.98,17.15,17.35,17.55,17.7,17.88],
[13.5,13.95,14.22,14.82,15.02,15.2,15.38,15.58,15.75,15.95,16.12,16.3,16.48,16.68,16.88,17.05,17.22,17.42,17.62,17.8,17.97],
[13.58,13.78,14.1,14.78,14.95,15.12,15.32,15.52,15.7,15.9,16.08,16.28,16.45,16.65,16.82,17.0,17.2,17.38,17.58,17.75,17.92],
[13.5,13.68,13.92,14.2,14.8,15.0,15.18,15.4,15.6,15.78,15.98,16.18,16.35,16.55,16.75,16.95,17.12,17.32,17.5,17.7,17.9],
[13.55,13.82,14.05,14.3,14.76,14.94,15.14,15.34,15.54,15.72,15.92,16.1,16.3,16.5,16.7,16.88,17.08,17.28,17.48,17.66,17.86],
[13.6,13.75,13.98,14.18,14.82,15.02,15.22,15.42,15.62,15.82,16.02,16.22,16.42,16.6,16.8,17.0,17.18,17.38,17.58,17.78,17.96],
[13.5,13.7,13.9,14.1,14.32,14.78,14.98,15.16,15.36,15.56,15.76,15.96,16.16,16.36,16.56,16.74,16.94,17.14,17.34,17.54,17.74,17.92],
[13.62,13.85,14.05,14.25,14.85,15.05,15.25,15.6,15.8,16.0,16.2,16.4,16.52,16.72,16.92,17.12,17.3,17.52,17.72,17.9],
[13.52,13.72,13.92,14.12,14.98,15.55,16.46,16.9,17.2,17.32,17.5,17.72,17.95],
[13.48,13.66,13.9,14.06,14.22,16.5,16.56],
[13.52,13.7,13.85,14.15,14.3,16.46,16.58],
[13.5,13.68,13.88,14.1,14.24,16.5,16.6],
[13.55,13.72,13.9,14.15,16.5,16.55],
[13.48,13.7,13.92,14.12,16.46,16.56],
[13.5,13.68,13.9,14.16,14.22,16.52],
[13.5,13.66,13.84,16.5,16.56],
[13.54,13.9,16.48],
[13.66,16.46,16.52],
[13.5,16.5],
[16.48,16.55],
[13.64,16.52],
[16.48,16.56],
[16.5],
[16.46,16.54],
[16.5],
[]
];
const denseOrange = [
[16.3,16.45,17.28],
[15.0,15.2,16.25,16.4,16.78,17.2],
[13.55,13.7,15.15,16.3,16.6,16.78,16.85,17.0,17.1],
[13.65,13.85,14.17,14.8,15.0,15.45,15.75,16.4,16.75,17.3,17.6,17.95],
[13.7,14.75,15.0,15.25,15.4,15.7,15.9,16.05,16.3,16.6,16.75,17.0,17.3,17.5,17.75],
[13.5,13.72,14.9,15.1,15.35,15.75,16.0,16.2,16.3,16.45,16.65,16.75,17.1,17.35,17.7],
[13.55,13.85,14.0,14.72,15.05,15.25,15.6,15.95,16.15,16.5,16.7,17.2,17.4,17.72,17.9],
[13.45,13.65,13.78,14.75,14.95,15.15,15.5,15.7,16.05,16.4,16.6,16.95,17.15,17.5,17.85],
[13.48,13.7,13.92,14.82,15.2,15.4,15.8,15.98,16.32,16.55,16.72,17.08,17.25,17.45,17.8],
[13.6,13.72,14.1,14.72,14.92,15.3,15.48,15.85,16.22,16.4,16.58,16.78,17.15,17.32,17.7],
[13.5,13.68,13.9,14.2,14.85,15.05,15.42,15.8,16.18,16.55,16.9,17.1,17.48,17.66,17.98],
[13.6,13.8,14.05,14.9,15.1,15.3,15.7,15.88,16.28,16.65,16.85,17.22,17.42,17.8],
[13.48,13.65,13.9,14.15,14.85,15.24,15.45,15.82,16.2,16.4,16.6,16.98,17.18,17.56,17.75],
[13.52,13.68,13.88,14.08,14.9,15.12,15.5,15.72,16.12,16.32,16.7,17.1,17.28,17.68,17.88],
[13.6,13.8,14.0,14.2,14.88,15.26,15.46,15.86,16.06,16.26,16.46,16.84,17.04,17.24,17.64,17.98],
[13.55,13.72,13.95,14.15,14.95,15.15,15.35,15.45,15.7,15.9,16.1,16.3,16.62,16.82,17.02,17.22,17.62,17.98],
[13.6,13.82,14.02,15.05,17.98],
[13.58,13.78,13.98,14.28],
[13.6,13.78,13.95],
[13.58,13.78,14.0],
[13.62,13.8,14.02],
[13.58,13.8],
[13.6,13.78],
[13.58],
[13.6],
[13.5],
[],
[13.86],
[],
[16.5],
[16.52],
[],
[],
[16.5]
];
const denseGreen = [
[16.1,17.62],
[14.95,15.1],
[],
[13.7],
[13.93],
[14.18],
[14.02,16.1],
[13.62,15.35],
[13.9,15.7],
[14.05,16.02],
[15.6,16.35],
[13.62,15.85],
[14.02,15.0,16.85],
[13.82,15.62,16.9],
[13.58,16.1],
[13.45,15.3],
[13.45,15.3,15.5,14.1],
[13.45,14.1],
[13.5],
[13.46,14.12],
[14.2,16.55],
[13.5],
[13.8],
[13.76],
[16.55],
[],
[13.82],
[],
[],
[],
[],
[],
[],
[]
];
const denseCyan = [
[14.65,16.15,16.72],
[17.97],
[16.0],
[15.72],
[14.55,16.98],
[16.9,17.85],
[15.25,17.28],
[13.98,14.1,16.75],
[13.42,14.25,17.62],
[14.2,13.6,15.66,17.48],
[14.2,14.02,15.98,17.02],
[14.18,15.5,16.42],
[16.6,17.4],
[13.72,15.78,17.3],
[14.22,14.3,16.98,17.56],
[14.35,16.04,17.6],
[14.3,16.0,17.45,17.6],
[14.38],
[14.08],
[13.8],
[13.86],
[14.05],
[],
[],
[],
[13.87],
[],
[],
[],
[],
[],
[],
[],
[]
];

const countTicks = [0,111,222,333];
const countMinorTicks = [55.5,166.5,277.5];
const histMw = [6.2,6.1,6.0,5.9,5.8,5.7,5.6,5.5,5.4,5.3,5.2,5.1,5.0,4.9,4.8,4.7,4.6,4.5,4.4,4.3,4.2,4.1,4.0,3.9,3.8,3.7,3.6,3.5,3.4,3.3,3.2,3.1,3.0,2.9,2.8,2.7,2.6,2.5,2.4,2.3,2.2,2.1,2.0,1.9,1.8];
const histCounts = [2,2,3,3,1,3,2,8,7,10,16,9,18,26,35,43,77,52,87,102,122,137,168,219,233,303,340,255,94,72,71,65,58,48,47,50,35,30,31,22,17,8,1,4,3];

/* ---------- axis functions ---------- */
const merc = lat => Math.log(Math.tan(Math.PI/4 + lat*Math.PI/360));
const mapX = lon => 1132.4 + (lon + 80) * 59.1;
const mapY = lat => 395 - 3386 * (merc(lat) - merc(12));
const yearX = y => 188.7 + (y - 1999) * 49.75;
const nY = v => v > 0 ? 1695.7 - 111.4 * Math.log10(v) : 1699.5;
const mwY = m => 1876.7 + (5 - m) * 99;
const countX = c => 1169.3 + c * 412.1 / 333;

const NS = 'http://www.w3.org/2000/svg';
function el(tag, parent, attrs) {
  const e = document.createElementNS(NS, tag);
  for (const k in attrs) e.setAttribute(k, attrs[k]);
  parent.appendChild(e);
  return e;
}
function line(parent, x1, y1, x2, y2, w, color) {
  const l = el('line', parent, {x1, y1, x2, y2, stroke: color || '#000', 'stroke-width': w});
  
  
  return l;
}
function label(parent, x, y, txt, anchor, size) {
  const t = el('text', parent, {x, y, 'text-anchor': anchor, 'font-size': size || 50});
  
  
  t.textContent = txt;
  return t;
}

/* ---------- base map geometry ---------- */
const landPoints = '189,30 650,30 650,32 643,53 650,62 643,77 647,95 640,117 635,130 625,137 615,142 606,153 622,163 637,163 653,172 663,162 683,157 692,165 720,167 760,165 780,155 782,151 810,160 835,153 857,162 878,163 893,180 923,193 935,200 947,213 937,223 943,250 932,275 923,307 925,347 918,367 917,383 908,403 917,417 907,433 907,450 923,477 937,500 947,513 990,554 1004,568 1019,563 1030,575 1044,583 1084,581 1102,568 1129,568 1135,554 1146,548 1155,537 1167,539 1189,543 1204,548 1218,546 1249,559 1285,590 1303,608 1314,617 1318,637 1327,635 1325,595 1343,581 1356,563 1369,552 1369,985 1211,985 1213,970 1240,952 1280,916 1307,876 1285,858 1294,831 1289,813 1280,780 1298,764 1289,746 1294,720 1271,693 1240,657 1227,628 1254,617 1227,604 1209,586 1187,572 1155,575 1160,579 1146,590 1142,604 1108,615 1104,626 1111,635 1131,653 1133,664 1111,668 1111,677 1084,679 1079,664 1062,653 1044,648 1030,621 1020,620 990,620 960,620 930,600 900,575 860,577 830,557 820,535 810,520 790,480 760,440 733,393 710,360 700,323 693,310 670,310 670,323 660,332 640,323 620,320 600,315 580,308 547,293 510,279 497,278 466,273 436,260 405,230 374,202 328,163 313,154 282,142 256,139 233,143 221,153 189,163';
document.getElementById('land').setAttribute('points', landPoints);
document.getElementById('landClipPoly').setAttribute('points', landPoints);

const grat = document.getElementById('graticule');
const gratLons = [-96,-95,-94,-93,-92,-91,-90,-89,-88,-87,-86,-85,-84,-83,-82,-81,-80,-79,-78,-77];
const gratLats = [3,4,5,6,7,8,9,10,11,12,13,14,15,16,17];
gratLons.forEach(v => line(grat, mapX(v), 29, mapX(v), 985, 1, '#e6e6e6'));
gratLats.forEach(v => line(grat, 189, mapY(v), 1370, mapY(v), 1, '#e6e6e6'));

/* ---------- map marks ---------- */
function mix(order) { return Math.abs(order * 7.31) % 1; }

function starPoints(cx, cy, R) {
  const pts = [];
  for (let i = 0; i < 10; i++) {
    const r = i % 2 ? R * 0.382 : R;
    const a = -Math.PI / 2 + i * Math.PI / 5;
    pts.push((cx + r * Math.cos(a)).toFixed(1) + ',' + (cy + r * Math.sin(a)).toFixed(1));
  }
  return pts.join(' ');
}
const starG = document.getElementById('stars');
[[starsGreen, depthColors[2]], [starsOrange, depthColors[1]], [starsRed, depthColors[0]]].forEach(([arr, col]) => {
  arr.forEach(p => {
    const s = el('polygon', starG, {points: starPoints(mapX(p[0]), mapY(p[1]), 18.5), fill: col, stroke: '#1a1a1a', 'stroke-width': 1.4});
    
    
  });
});

const sqAll = [];
squaresOrange.concat(squaresOrangeBand).forEach(p => sqAll.push([p[0], p[1], depthColors[1], 0]));
squaresRed.concat(squaresRedBand).forEach(p => sqAll.push([p[0], p[1], depthColors[0], 0]));
squaresGreen.forEach(p => sqAll.push([p[0], p[1], depthColors[2], 0.6]));
squaresCyan.forEach(p => sqAll.push([p[0], p[1], depthColors[3], 1]));
squaresBlue.forEach(p => sqAll.push([p[0], p[1], depthColors[4], 1]));
sqAll.sort((a, b) => (mix(a[0] + a[1]) + a[3]) - (mix(b[0] + b[1]) + b[3]));
const sqG = document.getElementById('squares');
sqAll.forEach(p => {
  const r = el('rect', sqG, {x: mapX(p[0]) - 8.3, y: mapY(p[1]) - 8.3, width: 16.6, height: 16.6, fill: p[2], stroke: '#3a3320', 'stroke-width': 1.5});
  
  
});

const cAll = [];
circlesOrange.concat(circlesOrangeBand).forEach(p => cAll.push([p[0], p[1], depthColors[1]]));
circlesRed.concat(circlesRedBand).forEach(p => cAll.push([p[0], p[1], depthColors[0]]));
circlesGreen.forEach(p => cAll.push([p[0], p[1], depthColors[2]]));
circlesCyan.forEach(p => cAll.push([p[0], p[1], depthColors[3]]));
circlesBlue.forEach(p => cAll.push([p[0], p[1], depthColors[4]]));
cAll.sort((a, b) => mix(a[0] - a[1]) - mix(b[0] - b[1]));
const cG = document.getElementById('circles');
cAll.forEach(p => {
  const c = el('circle', cG, {cx: mapX(p[0]), cy: mapY(p[1]), r: 3.8, fill: p[2], stroke: '#111', 'stroke-width': 1.3});
  
  
});

/* ---------- map frame ---------- */
const fr = document.getElementById('mapFrame');
const frOuter = el('rect', fr, {x: 177.2, y: 17.5, width: 1204.8, height: 980.6, fill: 'none', stroke: '#000', 'stroke-width': 1.6});


const frInner = el('rect', fr, {x: 189, y: 29.3, width: 1180.5, height: 955.7, fill: 'none', stroke: '#000', 'stroke-width': 1.6});


frameLonStarts.forEach(v => {
  const x1 = mapX(v), w = mapX(v + 2.5) - x1;
  const a = el('rect', fr, {x: x1, y: 17.5, width: w, height: 11.8, fill: '#000'});
  
  
  const b = el('rect', fr, {x: x1, y: 985, width: w, height: 13, fill: '#000'});
  
  
});
frameLatBands.forEach(b => {
  const y1 = Math.max(29.3, mapY(b[0])), h = mapY(b[1]) - y1;
  const l = el('rect', fr, {x: 177.2, y: y1, width: 11.8, height: h, fill: '#000'});
  
  
  const r = el('rect', fr, {x: 1369.5, y: y1, width: 12.5, height: h, fill: '#000'});
  
  
});
const mapLab = document.getElementById('mapLabels');
latTicks.forEach(v => label(mapLab, 164, mapY(v) + 18, v + '°N', 'end', 48.5));
lonTicks.forEach(v => label(mapLab, mapX(v), 1047, Math.abs(v) + '°W', 'middle', 48.5));

/* ---------- colour bar ---------- */
const cb = document.getElementById('colorbar');
const cbLeft = 425, cbStep = (1133.6 - 425) / (depthEdges.length - 1);
depthColors.forEach((col, i) => {
  const r = el('rect', cb, {x: cbLeft + i * cbStep, y: 1115, width: cbStep, height: 31, fill: col});
  
  
});
const cbBox = el('rect', cb, {x: cbLeft, y: 1115, width: cbStep * 6, height: 31, fill: 'none', stroke: '#000', 'stroke-width': 2});


depthEdges.forEach((v, i) => {
  line(cb, cbLeft + i * cbStep, 1146, cbLeft + i * cbStep, 1158, 1.6);
  label(cb, cbLeft + i * cbStep, 1206, String(v), 'middle');
});

/* ---------- events-per-year histogram ---------- */
const yb = document.getElementById('yearBars');
eventsPerYear.forEach((v, i) => {
  const top = Math.max(1371.5, nY(v));
  const r = el('rect', yb, {x: yearX(eventYears[i]) + 0.5, y: top, width: 48.7, height: 1701 - top, fill: '#000', stroke: '#8a8a8a', 'stroke-width': 0.6});
  
  
});
line(yb, 188.7, 1370.7, 1134, 1370.7, 2.6);
line(yb, 188.7, 1701, 1134, 1701, 2.6);
line(yb, 188.7, 1370.7, 188.7, 1701, 2);
line(yb, 1134, 1370.7, 1134, 1701, 2);
nPerYearMinor.forEach(v => {
  line(yb, 183, nY(v), 188.7, nY(v), 1.6);
  line(yb, 1134, nY(v), 1140, nY(v), 1.6);
});
nPerYearLabels.forEach(v => {
  line(yb, 178, nY(v), 188.7, nY(v), 1.8);
  line(yb, 1134, nY(v), 1145, nY(v), 1.8);
  label(yb, 177, nY(v) + 18, String(v), 'end');
});
const tmYears = [1999,2000,2001,2002,2003,2004,2005,2006,2007,2008,2009,2010,2011,2012,2013,2014,2015,2016,2017,2018];
tmYears.forEach(y => {
  const major = yearTicks.includes(y);
  line(yb, yearX(y), 1370.7, yearX(y), major ? 1358 : 1364, 1.6);
  line(yb, yearX(y), 1701, yearX(y), major ? 1712 : 1708, 1.6);
});
yearTicks.forEach(y => label(yb, yearX(y), 1346, String(y), 'middle'));

/* ---------- magnitude vs time ---------- */
const tm = document.getElementById('tmPanel');
tmYears.forEach(y => line(tm, yearX(y), 1728, yearX(y), 2203, 1, '#dcdcdc'));
mwTicks.forEach(m => line(tm, 188.7, mwY(m), 1134, mwY(m), 2, '#ececec'));
const dots = [];
isoRed.forEach(p => dots.push([p[0], p[1], depthColors[0], 0.18]));
isoOrange.forEach(p => dots.push([p[0], p[1], depthColors[1], 0]));
isoGreen.forEach(p => dots.push([p[0], p[1], depthColors[2], 0]));
isoCyan.forEach(p => dots.push([p[0], p[1], depthColors[3], 0]));
denseMw.forEach((m, i) => {
  denseCyan[i].forEach(y => dots.push([2000 + y, m, depthColors[3], 0]));
  denseGreen[i].forEach(y => dots.push([2000 + y, m, depthColors[2], 0]));
  denseOrange[i].forEach(y => dots.push([2000 + y, m, depthColors[1], 0]));
  denseRed[i].forEach(y => dots.push([2000 + y, m, depthColors[0], 0.18]));
});
dots.sort((a, b) => (mix(a[0] * a[1]) + a[3]) - (mix(b[0] * b[1]) + b[3]));
const dotG = el('g', tm, {'clip-path': 'url(#tmClip)'});


dots.forEach(p => {
  const c = el('circle', dotG, {cx: yearX(p[0]), cy: mwY(p[1]), r: 6, fill: p[2]});
  
  
});
line(tm, 188.7, 1728, 1134, 1728, 2.6);
line(tm, 188.7, 2203.4, 1134, 2203.4, 2.6);
line(tm, 188.7, 1728, 188.7, 2203.4, 2);
line(tm, 1134, 1728, 1134, 2203.4, 2);
mwMinorTicks.forEach(m => {
  line(tm, 183, mwY(m), 188.7, mwY(m), 1.6);
  line(tm, 1134, mwY(m), 1140, mwY(m), 1.6);
});
mwTicks.forEach(m => {
  line(tm, 177, mwY(m), 188.7, mwY(m), 1.8);
  line(tm, 1134, mwY(m), 1146, mwY(m), 1.8);
  label(tm, 176, mwY(m) + 18, String(m), 'end');
});
tmYears.forEach(y => {
  const major = yearTicks.includes(y);
  line(tm, yearX(y), 1728, yearX(y), major ? 1716 : 1722, 1.6);
  line(tm, yearX(y), 2203.4, yearX(y), major ? 2215 : 2209, 1.6);
});
yearTicks.forEach(y => label(tm, yearX(y) + 24.9, 2257, String(y), 'middle'));

/* ---------- magnitude histogram ---------- */
const mh = document.getElementById('magHist');
histMw.forEach((m, i) => {
  const w = Math.min(countX(333), countX(histCounts[i])) - countX(0);
  const r = el('rect', mh, {x: countX(0), y: mwY(m) - 4.95, width: w, height: 9.9, fill: '#000', stroke: '#7f7f7f', 'stroke-width': 1.7});
  
  
});
line(mh, countX(0), 1728, countX(333), 1728, 2);
line(mh, countX(0), 2203.4, countX(333), 2203.4, 2);
line(mh, countX(0), 1728, countX(0), 2203.4, 2);
line(mh, countX(333), 1728, countX(333), 2203.4, 2);
mwMinorTicks.forEach(m => {
  line(mh, 1163, mwY(m), countX(0), mwY(m), 1.6);
  line(mh, countX(333), mwY(m), countX(333) + 6, mwY(m), 1.6);
});
mwTicks.forEach(m => {
  line(mh, countX(333), mwY(m), countX(333) + 12, mwY(m), 1.8);
  label(mh, 1606, mwY(m) + 18, String(m), 'start');
});
countTicks.forEach(c => {
  line(mh, countX(c), 1728, countX(c), 1716, 1.8);
  line(mh, countX(c), 2203.4, countX(c), 2215, 1.8);
  label(mh, countX(c) - 2, 1705, String(c), 'middle');
});
countMinorTicks.forEach(c => {
  line(mh, countX(c), 1728, countX(c), 1722, 1.6);
  line(mh, countX(c), 2203.4, countX(c), 2209, 1.6);
});
</script>
</body>
</html>
